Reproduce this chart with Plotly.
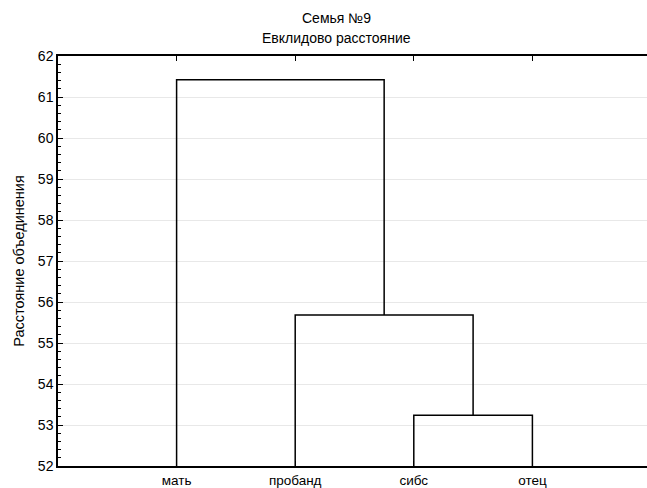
import plotly.graph_objects as go

labels = ["мать", "пробанд", "сибс", "отец"]
# merges: (left member, right member, height); members are leaf labels or cluster ids "c0", "c1", ...
merges = [("сибс", "отец", 53.24), ("пробанд", "c0", 55.68), ("мать", "c1", 61.42)]
y_min, y_max = 52, 62
title_lines = ["Семья №9", "Евклидово расстояние"]
y_title = "Расстояние объединения"

pos = {lab: (i + 1, y_min) for i, lab in enumerate(labels)}
xs, ys = [], []
for k, (a, b, h) in enumerate(merges):
    xa, ya = pos[a]
    xb, yb = pos[b]
    xs += [xa, xa, xb, xb, None]
    ys += [ya, h, h, yb, None]
    pos["c%d" % k] = ((xa + xb) / 2, h)

fig = go.Figure()
fig.add_trace(go.Scatter(x=xs, y=ys, mode="lines", line=dict(color="black", width=1.5),
                         hoverinfo="skip", showlegend=False))

W, H = 647, 488
ml, mr, mt, mb = 58, 0, 56, 22
fig.update_layout(
    width=W, height=H, margin=dict(l=ml, r=mr, t=mt, b=mb),
    paper_bgcolor="white", plot_bgcolor="white",
    font=dict(family="Liberation Sans, Arial, sans-serif", size=14, color="black"),
    showlegend=False,
)
fig.update_xaxes(range=[0, (W - ml) / 118.6], tickvals=list(range(1, len(labels) + 1)), ticktext=labels,
                 showgrid=False, zeroline=False, showline=True, linecolor="black", linewidth=1.5,
                 mirror="ticks", ticks="inside", ticklen=5, tickcolor="black",
                 tickfont=dict(size=13.5), ticklabelstandoff=1)
fig.update_yaxes(range=[y_min, y_max], dtick=1, showgrid=True, gridcolor="#e8e8e8", gridwidth=1,
                 zeroline=False, showline=True, linecolor="black", linewidth=1.5,
                 ticks="inside", ticklen=5, tickcolor="black", tickfont=dict(size=14),
                 minor=dict(dtick=0.2, ticks="inside", ticklen=3, tickcolor="black", showgrid=False),
                 title=dict(text=y_title, font=dict(size=14.5), standoff=10))

for i, t in enumerate(title_lines):
    fig.add_annotation(text=t, xref="paper", yref="paper",
                       x=(336 - ml) / (W - ml - mr), y=1 + (38 - 20 * i) / (H - mt - mb),
                       xanchor="center", yanchor="middle", showarrow=False, font=dict(size=14))

fig.write_html("out.html", config={"displayModeBar": False},
               post_script="document.body.style.margin='0';document.body.style.overflow='hidden';")
